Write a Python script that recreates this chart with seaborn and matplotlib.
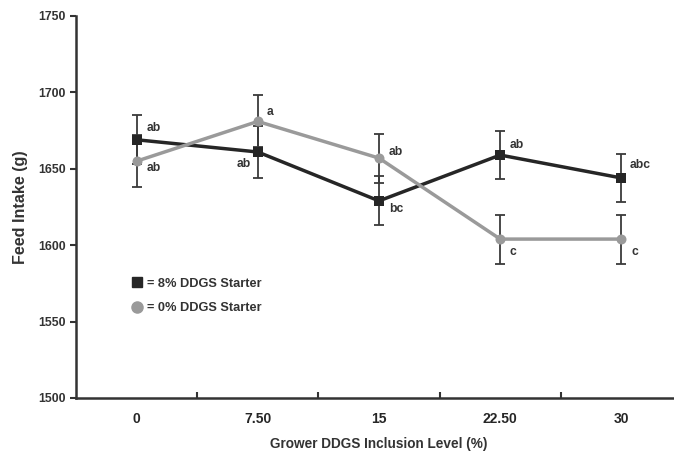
import pandas as pd
import seaborn as sns
import matplotlib.pyplot as plt
from matplotlib.lines import Line2D

# values
levels = ["0", "7.50", "15", "22.50", "30"]
intake_8 = [1669, 1661, 1629, 1659, 1644]
err_8 = [16, 17, 16, 16, 16]
letters_8 = ["ab", "ab", "bc", "ab", "abc"]
intake_0 = [1655, 1681, 1657, 1604, 1604]
err_0 = [17, 17, 16, 16, 16]
letters_0 = ["ab", "a", "ab", "c", "c"]

# letter offsets in pixels (x, y)
offs_8 = [(17, 12), (-14, -12), (17, -8), (17, 10), (19, 13)]
offs_0 = [(17, -7), (12, 9), (17, 6), (13, -13), (13, -13)]

black = "#262626"
grey = "#9a9a9a"

sns.set_style("ticks")
plt.rcParams["font.family"] = ["Liberation Sans", "DejaVu Sans"]
plt.rcParams["font.weight"] = "bold"

df = pd.DataFrame({
    "x": list(range(len(levels))) * 2,
    "intake": intake_8 + intake_0,
    "starter": ["8%"] * len(levels) + ["0%"] * len(levels),
})

fig = plt.figure(figsize=(6.74, 4.53), dpi=100)
ax = fig.add_axes([76 / 674, 55 / 453, 606 / 674, 382 / 453])

# error bars first so lines sit on top
ax.errorbar(range(len(levels)), intake_0, yerr=err_0, fmt="none", ecolor="#3a3a3a",
            elinewidth=1.3, capsize=3.5, capthick=1.3, zorder=1)
ax.errorbar(range(len(levels)), intake_8, yerr=err_8, fmt="none", ecolor="#3a3a3a",
            elinewidth=1.3, capsize=3.5, capthick=1.3, zorder=1)

sns.lineplot(data=df, x="x", y="intake", hue="starter", style="starter",
             palette={"8%": black, "0%": grey}, markers={"8%": "s", "0%": "o"},
             dashes=False, markersize=7.2, markeredgewidth=0, linewidth=2.5,
             legend=False, ax=ax, zorder=3)

for i in range(len(levels)):
    ax.annotate(letters_8[i], (i, intake_8[i]), xytext=offs_8[i], textcoords="offset pixels",
                ha="center", va="center", fontsize=8.7, fontweight="bold", color="#333333")
    ax.annotate(letters_0[i], (i, intake_0[i]), xytext=offs_0[i], textcoords="offset pixels",
                ha="center", va="center", fontsize=8.7, fontweight="bold", color="#333333")

ax.set_xlim(-0.5, len(levels) - 0.5)
ax.set_ylim(1500, 1750)
ax.set_yticks([1500, 1550, 1600, 1650, 1700, 1750])
ax.set_xticks([i + 0.5 for i in range(len(levels) - 1)])
ax.set_xticklabels([])
ax.set_xticks(range(len(levels)), minor=True)
ax.set_xticklabels(levels, minor=True)
ax.tick_params(axis="x", which="minor", length=0, pad=10)
ax.tick_params(axis="x", which="major", length=4, width=1.5, direction="in", color="#333333")
ax.tick_params(axis="y", length=4, width=1.5, color="#333333")
ax.tick_params(labelsize=8.8, labelcolor="#333333")
for lab in ax.get_xticklabels(minor=True) + ax.get_yticklabels():
    lab.set_fontweight("bold")

for s in ["left", "bottom"]:
    ax.spines[s].set_linewidth(1.8)
    ax.spines[s].set_color("#333333")
sns.despine(ax=ax)

ax.set_xlabel("Grower DDGS Inclusion Level (%)", fontsize=9.8, fontweight="bold",
              color="#333333", labelpad=8)
ax.set_ylabel("Feed Intake (g)", fontsize=11.6, fontweight="bold", color="#333333", labelpad=7)

handles = [
    Line2D([], [], marker="s", linestyle="none", color=black, markersize=7.5),
    Line2D([], [], marker="o", linestyle="none", color=grey, markersize=8),
]
ax.legend(handles, ["= 8% DDGS Starter", "= 0% DDGS Starter"], frameon=False,
          loc="upper left", bbox_to_anchor=(0.065, 0.345), handletextpad=0.0,
          handlelength=1.6, labelspacing=1.0, prop={"size": 9.2, "weight": "bold"},
          labelcolor="#333333")

fig.savefig("out.png", dpi=100)
